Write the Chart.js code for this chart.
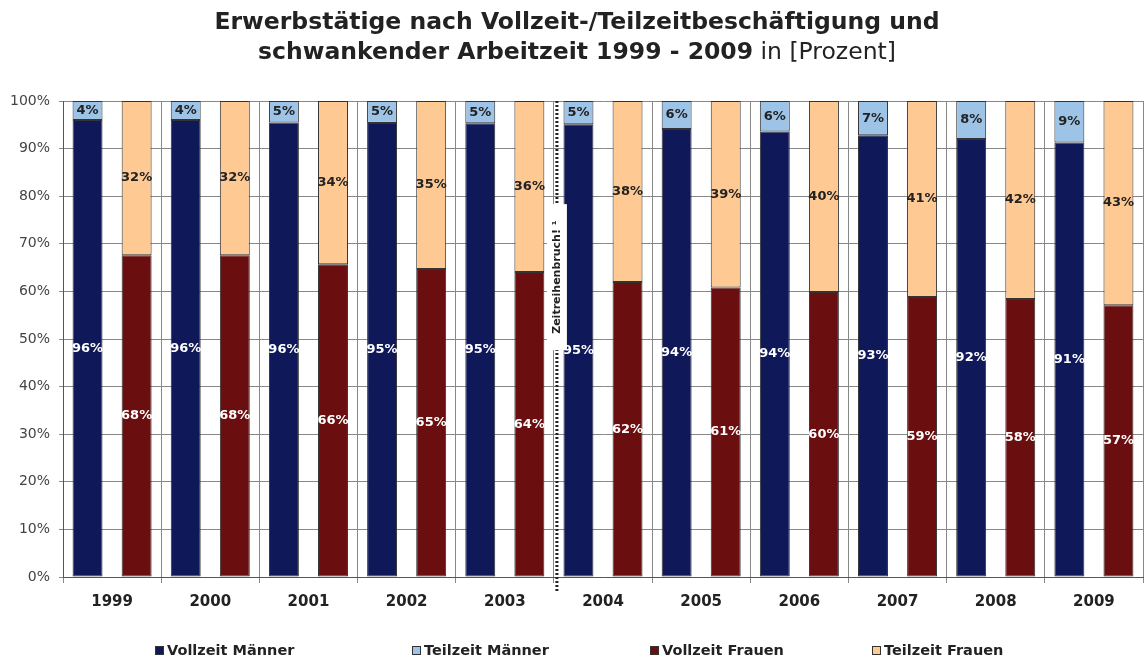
<!DOCTYPE html>
<html>
<head>
<meta charset="utf-8">
<script src="https://cdn.jsdelivr.net/npm/chart.js@4/dist/chart.umd.min.js"></script>
<style>
  html, body { margin: 0; padding: 0; background: #fff; }
  #wrap { position: relative; width: 1146px; height: 664px; }
  #title { position: absolute; left: 0; top: 6px; width: 1154px; text-align: center;
           font-family: "DejaVu Sans", sans-serif; font-size: 23.5px; line-height: 30px; color: #222; }
  #title b { font-weight: bold; }
  canvas { position: absolute; left: 0; top: 0; }
</style>
</head>
<body>
<div id="wrap">
  <canvas id="c" width="1146" height="664"></canvas>
  <div id="title"><b>Erwerbstätige nach Vollzeit-/Teilzeitbeschäftigung und</b><br><b>schwankender Arbeitzeit 1999 - 2009</b> in [Prozent]</div>
</div>
<script>
// ---- data (percent) ----
const years = ['1999','2000','2001','2002','2003','2004','2005','2006','2007','2008','2009'];
const vollzeitMaenner = [96.0, 96.0, 95.5, 95.4, 95.3, 95.1, 94.1, 93.6, 92.8, 92.0, 91.3];
const teilzeitMaenner = [4.0, 4.0, 4.5, 4.6, 4.7, 4.9, 5.9, 6.4, 7.2, 8.0, 8.7];
const vollzeitFrauen  = [67.6, 67.6, 65.7, 64.7, 64.1, 62.0, 60.8, 59.9, 58.8, 58.4, 57.1];
const teilzeitFrauen  = [32.4, 32.4, 34.3, 35.3, 35.9, 38.0, 39.2, 40.1, 41.2, 41.6, 42.9];
const yTicks = [0,10,20,30,40,50,60,70,80,90,100];
const seriesNames = ['Vollzeit Männer','Teilzeit Männer','Vollzeit Frauen','Teilzeit Frauen'];
const breakAfterIndex = 4; // Zeitreihenbruch between 2003 and 2004
const breakText = 'Zeitreihenbruch! ¹';

const colors = ['#0F195A', '#9DC3E6', '#6B0E10', '#FFC994'];
const labelColors = ['#ffffff', '#222222', '#ffffff', '#222222'];
const FONT = '"DejaVu Sans", sans-serif';

const valueLabels = {
  id: 'valueLabels',
  afterDatasetsDraw(chart) {
    const ctx = chart.ctx;
    // time-series break line
    const xs = chart.scales.x;
    const xb = (xs.getPixelForValue(breakAfterIndex) + xs.getPixelForValue(breakAfterIndex + 1)) / 2 + 3;
    const top = chart.chartArea.top, bottom = chart.chartArea.bottom;
    ctx.save();
    ctx.strokeStyle = '#222';
    ctx.lineWidth = 3;
    ctx.setLineDash([2, 2]);
    ctx.beginPath();
    ctx.moveTo(xb, top);
    ctx.lineTo(xb, bottom + 14);
    ctx.stroke();
    ctx.setLineDash([]);
    const yMid = chart.scales.y.getPixelForValue(63);
    ctx.fillStyle = '#fff';
    ctx.fillRect(xb - 10, yMid - 73, 20, 146);
    ctx.translate(xb, yMid);
    ctx.rotate(-Math.PI / 2);
    ctx.fillStyle = '#222';
    ctx.font = 'bold 11px ' + FONT;
    ctx.textAlign = 'center';
    ctx.textBaseline = 'middle';
    ctx.fillText(breakText, 0, 0);
    ctx.restore();

    ctx.save();
    ctx.font = 'bold 13px ' + FONT;
    ctx.textAlign = 'center';
    ctx.textBaseline = 'middle';
    chart.data.datasets.forEach((ds, i) => {
      const meta = chart.getDatasetMeta(i);
      ctx.fillStyle = labelColors[i];
      meta.data.forEach((bar, j) => {
        const yc = (bar.y + bar.base) / 2;
        ctx.fillText(Math.round(ds.data[j]) + '%', bar.x, yc);
      });
    });
    ctx.restore();
  }
};

const customLegend = {
  id: 'customLegend',
  afterDraw(chart) {
    const ctx = chart.ctx;
    const starts = [155, 412, 650, 872];
    const y = 651;
    ctx.save();
    ctx.font = 'bold 14.5px ' + FONT;
    ctx.textBaseline = 'middle';
    ctx.textAlign = 'left';
    chart.data.datasets.forEach((ds, i) => {
      const x = starts[i];
      ctx.fillStyle = ds.backgroundColor;
      ctx.fillRect(x, y - 5, 9, 9);
      ctx.strokeStyle = '#333';
      ctx.lineWidth = 1;
      ctx.strokeRect(x + 0.5, y - 4.5, 8, 8);
      ctx.fillStyle = '#222';
      ctx.fillText(ds.label, x + 12, y);
    });
    ctx.restore();
  }
};

const datasets = [
  { label: seriesNames[0], data: vollzeitMaenner, stack: 'M' },
  { label: seriesNames[1], data: teilzeitMaenner, stack: 'M' },
  { label: seriesNames[2], data: vollzeitFrauen, stack: 'F' },
  { label: seriesNames[3], data: teilzeitFrauen, stack: 'F' }
].map((d, i) => Object.assign(d, {
  backgroundColor: colors[i],
  borderColor: '#333',
  borderWidth: 1,
  borderSkipped: false,
  categoryPercentage: 1.0,
  barPercentage: 0.61
}));

new Chart(document.getElementById('c'), {
  type: 'bar',
  data: { labels: years, datasets },
  options: {
    responsive: false,
    animation: false,
    layout: { padding: { top: 101, left: 0, right: 3, bottom: 47 } },
    plugins: { legend: { display: false }, tooltip: { enabled: false }, title: { display: false } },
    scales: {
      x: {
        stacked: true,
        grid: { offset: true, color: '#888', lineWidth: 1, tickLength: 6, drawTicks: true },
        border: { color: '#555', width: 1 },
        ticks: { color: '#222', font: { family: FONT, size: 15, weight: 'bold' }, padding: 10, maxRotation: 0 },
        afterFit(s) { s.height = 40; }
      },
      y: {
        stacked: true,
        min: 0, max: 100,
        afterBuildTicks(s) { s.ticks = yTicks.map(v => ({ value: v })); },
        grid: { color: '#888', lineWidth: 1, tickLength: 4 },
        border: { color: '#555', width: 1 },
        ticks: { color: '#444', font: { family: FONT, size: 14 }, padding: 9, callback: v => v + '%' },
        afterFit(s) { s.width = 63; }
      }
    }
  },
  plugins: [valueLabels, customLegend]
});
</script>
</body>
</html>
